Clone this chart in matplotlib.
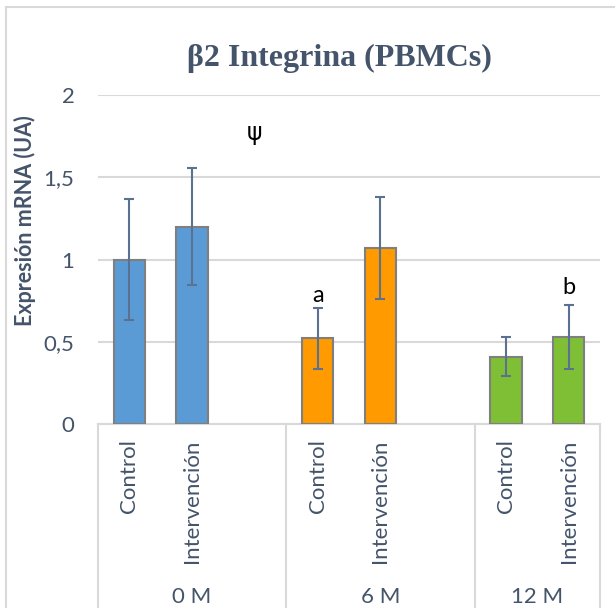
import numpy as np
import matplotlib.pyplot as plt
from matplotlib.lines import Line2D

# Datos: expresión relativa de mRNA (media y error) por grupo y tiempo
grupos = ['0 M', '6 M', '12 M']
categorias = ['Control', 'Intervención', '', 'Control', 'Intervención', '', 'Control', 'Intervención']
control = [1.00, 0.52, 0.41]
control_err = [0.365, 0.185, 0.12]
intervencion = [1.20, 1.07, 0.53]
intervencion_err = [0.355, 0.31, 0.195]
colores = ['#5B9BD5', '#FF9A00', '#7FBF35']
marcas = [('ψ', 2, 1.77), ('a', 3, 0.78), ('b', 7, 0.83)]

texto = '#44546A'
gris = '#D9D9D9'
fuente = 'Lato'

fig = plt.figure(figsize=(6.15, 6.08), dpi=100)
ax = fig.add_axes([98 / 615, 184 / 608, 502 / 615, 329 / 608])

# Posiciones de las barras: dos por grupo con un hueco entre grupos
x_ctrl = np.array([0, 3, 6])
x_int = x_ctrl + 1
for i in range(3):
    ax.bar(x_ctrl[i], control[i], width=0.5, color=colores[i], edgecolor='#7F7F7F',
           linewidth=1.5, zorder=3)
    ax.bar(x_int[i], intervencion[i], width=0.5, color=colores[i], edgecolor='#7F7F7F',
           linewidth=1.5, zorder=3)
ax.errorbar(x_ctrl, control, yerr=control_err, fmt='none', ecolor='#5A7192',
            elinewidth=1.5, capsize=3.4, capthick=1.5, zorder=4)
ax.errorbar(x_int, intervencion, yerr=intervencion_err, fmt='none', ecolor='#5A7192',
            elinewidth=1.5, capsize=3.4, capthick=1.5, zorder=4)

for s, xi, yi in marcas:
    ax.text(xi, yi, s, ha='center', va='center', fontsize=17, color='black',
            family=['DejaVu Sans'] if s == 'ψ' else fuente)

ax.set_xlim(-0.5, 7.5)
ax.set_ylim(0, 2)
ax.set_yticks([0, 0.5, 1, 1.5, 2])
ax.set_yticklabels(['0', '0,5', '1', '1,5', '2'], fontsize=16, color=texto, family=fuente)
ax.yaxis.grid(True, color=gris, linewidth=1.5, zorder=0)
ax.set_axisbelow(True)

ax.set_xticks(range(8))
ax.set_xticklabels(categorias, rotation=90, va='top', fontsize=16, color=texto,
                   family=fuente)
ax.tick_params(axis='both', length=0)
ax.tick_params(axis='x', pad=11)
ax.tick_params(axis='y', pad=17)

for lado in ['top', 'right', 'left']:
    ax.spines[lado].set_visible(False)
ax.spines['bottom'].set_color(gris)
ax.spines['bottom'].set_linewidth(1.5)

# Separadores de grupos del eje de categorías
for xs in [-0.5, 2.5, 5.5, 7.5]:
    ax.plot([xs, xs], [0, -0.56], transform=ax.get_xaxis_transform(), color=gris,
            linewidth=1.5, clip_on=False)
centros = [1.0, 4.0, 6.5]
for g, xc in zip(grupos, centros):
    ax.text(xc, -0.526, g, transform=ax.get_xaxis_transform(), ha='center', va='center',
            fontsize=16, color=texto, family=fuente)

ax.set_ylabel('Expresión mRNA (UA)', fontsize=15.5, fontweight='bold', color=texto,
              family=fuente)
ax.yaxis.set_label_coords(-0.124, 0.617)

fig.text(339 / 615, 1 - 58 / 608, 'β2 Integrina (PBMCs)', ha='center', va='center',
         fontsize=23, fontweight='bold', color=texto, family='Liberation Serif')

# Marco del área del gráfico
fig.add_artist(Line2D([6 / 615, 6 / 615], [0, 1 - 7 / 608], color=gris, linewidth=1.5))
fig.add_artist(Line2D([6 / 615, 1], [1 - 7 / 608, 1 - 7 / 608], color=gris, linewidth=1.5))

fig.savefig('out.png', dpi=100)
